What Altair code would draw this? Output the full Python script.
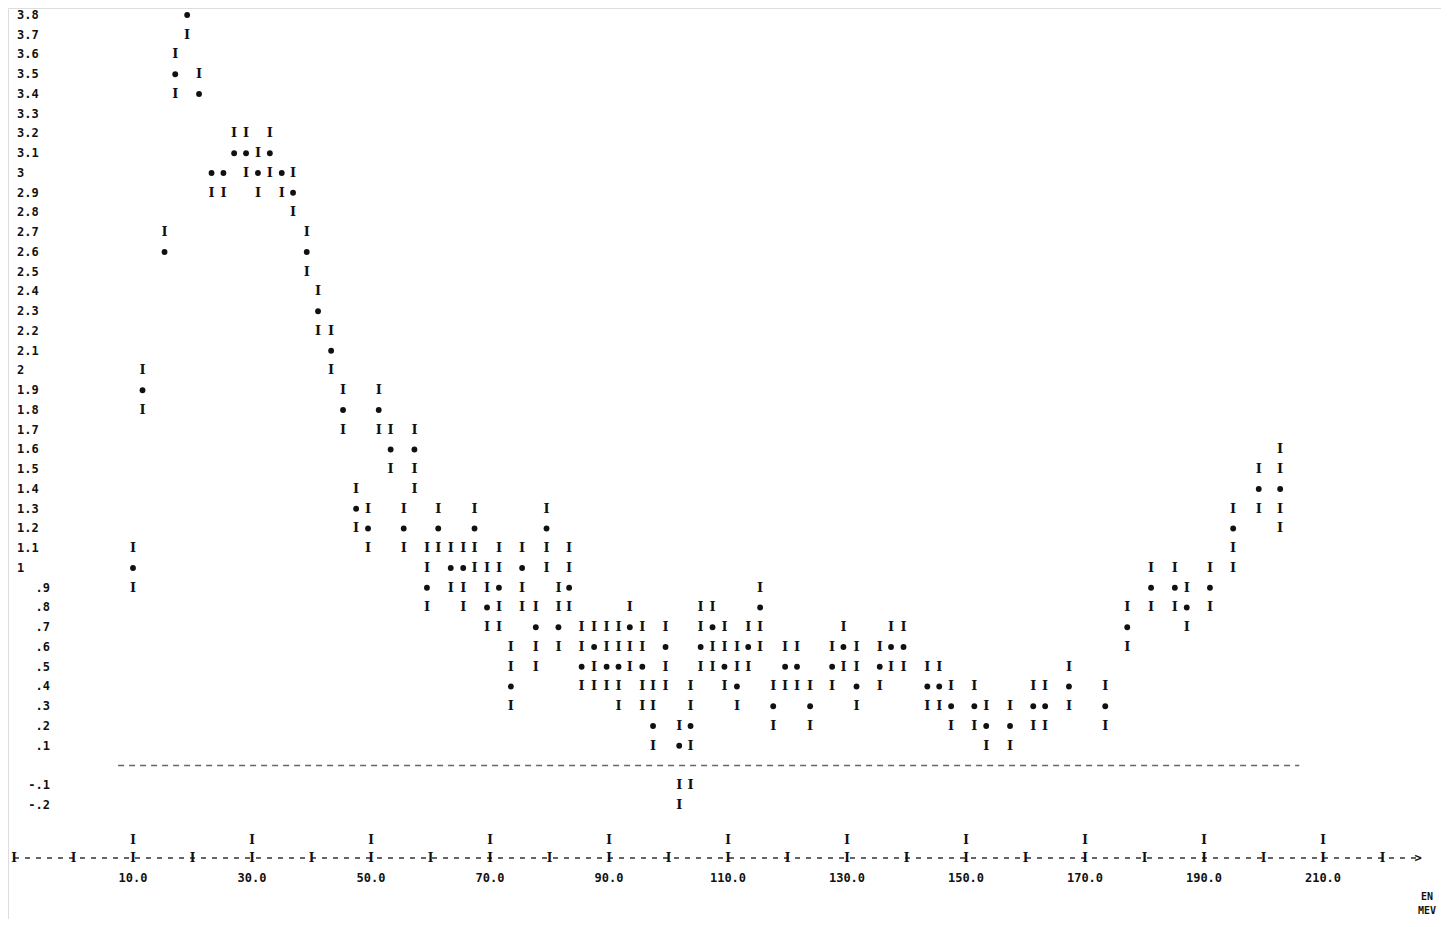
import altair as alt
import pandas as pd

# ---- data ----
energy = [10.0, 11.6, 15.3, 17.1, 19.1, 21.1, 23.2, 25.2, 27.0, 29.0,
          31.0, 33.0, 35.0, 36.9, 39.2, 41.1, 43.3, 45.3, 47.5, 49.5,
          51.3, 53.3, 55.5, 57.3, 59.4, 61.3, 63.4, 65.5, 67.4, 69.5,
          71.5, 73.5, 75.4, 77.7, 79.5, 81.5, 83.3, 85.4, 87.5, 89.6,
          91.6, 93.5, 95.6, 97.4, 99.5, 101.8, 103.7, 105.4, 107.4, 109.4,
          111.5, 113.4, 115.4, 117.6, 119.6, 121.6, 123.8, 127.5, 129.4, 131.6,
          135.5, 137.4, 139.5, 143.5, 145.5, 147.5, 151.4, 153.4, 157.4, 161.3,
          163.3, 167.3, 173.4, 177.1, 181.1, 185.1, 187.1, 191.0, 194.9, 199.2, 202.8]
value = [1.0, 1.9, 2.6, 3.5, 3.8, 3.4, 3.0, 3.0, 3.1, 3.1,
         3.0, 3.1, 3.0, 2.9, 2.6, 2.3, 2.1, 1.8, 1.3, 1.2,
         1.8, 1.6, 1.2, 1.6, 0.9, 1.2, 1.0, 1.0, 1.2, 0.8,
         0.9, 0.4, 1.0, 0.7, 1.2, 0.7, 0.9, 0.5, 0.6, 0.5,
         0.5, 0.7, 0.5, 0.2, 0.6, 0.1, 0.2, 0.6, 0.7, 0.5,
         0.4, 0.6, 0.8, 0.3, 0.5, 0.5, 0.3, 0.5, 0.6, 0.4,
         0.5, 0.6, 0.6, 0.4, 0.4, 0.3, 0.3, 0.2, 0.2, 0.3,
         0.3, 0.4, 0.3, 0.7, 0.9, 0.9, 0.8, 0.9, 1.2, 1.4, 1.4]
err_lo = [0.9, 1.8, 2.6, 3.4, 3.7, 3.4, 2.9, 2.9, 3.1, 3.0,
          2.9, 3.0, 2.9, 2.8, 2.5, 2.2, 2.0, 1.7, 1.2, 1.1,
          1.7, 1.5, 1.1, 1.4, 0.8, 1.1, 0.9, 0.8, 1.0, 0.7,
          0.7, 0.3, 0.8, 0.5, 1.0, 0.6, 0.8, 0.4, 0.4, 0.4,
          0.3, 0.5, 0.3, 0.1, 0.4, -0.2, -0.1, 0.5, 0.5, 0.4,
          0.3, 0.5, 0.6, 0.2, 0.4, 0.4, 0.2, 0.4, 0.5, 0.3,
          0.4, 0.5, 0.5, 0.3, 0.3, 0.2, 0.2, 0.1, 0.1, 0.2,
          0.2, 0.3, 0.2, 0.6, 0.8, 0.8, 0.7, 0.8, 1.0, 1.3, 1.2]
err_hi = [1.1, 2.0, 2.7, 3.6, 3.8, 3.5, 3.0, 3.0, 3.2, 3.2,
          3.1, 3.2, 3.0, 3.0, 2.7, 2.4, 2.2, 1.9, 1.4, 1.3,
          1.9, 1.7, 1.3, 1.7, 1.1, 1.3, 1.1, 1.1, 1.3, 1.0,
          1.1, 0.6, 1.1, 0.8, 1.3, 0.9, 1.1, 0.7, 0.7, 0.7,
          0.7, 0.8, 0.7, 0.4, 0.7, 0.2, 0.4, 0.8, 0.8, 0.7,
          0.6, 0.7, 0.9, 0.4, 0.6, 0.6, 0.4, 0.6, 0.7, 0.6,
          0.6, 0.7, 0.7, 0.5, 0.5, 0.4, 0.4, 0.3, 0.3, 0.4,
          0.4, 0.5, 0.4, 0.8, 1.0, 1.0, 0.9, 1.0, 1.3, 1.5, 1.6]

y_label_values = [3.8, 3.7, 3.6, 3.5, 3.4, 3.3, 3.2, 3.1, 3.0, 2.9, 2.8, 2.7, 2.6, 2.5,
                  2.4, 2.3, 2.2, 2.1, 2.0, 1.9, 1.8, 1.7, 1.6, 1.5, 1.4, 1.3, 1.2, 1.1,
                  1.0, 0.9, 0.8, 0.7, 0.6, 0.5, 0.4, 0.3, 0.2, 0.1, -0.1, -0.2]
y_label_text = ["3.8", "3.7", "3.6", "3.5", "3.4", "3.3", "3.2", "3.1", "3", "2.9", "2.8",
                "2.7", "2.6", "2.5", "2.4", "2.3", "2.2", "2.1", "2", "1.9", "1.8", "1.7",
                "1.6", "1.5", "1.4", "1.3", "1.2", "1.1", "1", ".9", ".8", ".7", ".6", ".5",
                ".4", ".3", ".2", ".1", "-.1", "-.2"]

x_major = [10, 30, 50, 70, 90, 110, 130, 150, 170, 190, 210]
x_major_text = ["10.0", "30.0", "50.0", "70.0", "90.0", "110.0", "130.0", "150.0",
                "170.0", "190.0", "210.0"]
x_minor = [-10, 0, 10, 20, 30, 40, 50, 60, 70, 80, 90, 100, 110, 120, 130, 140, 150,
           160, 170, 180, 190, 200, 210, 220]
axis_extent = [-10, 226]
zero_line_extent = [7.5, 206]
axis_title = ["EN", "MEV"]

# ---- tables ----
pts = pd.DataFrame({"E": energy, "v": value, "lo": err_lo, "hi": err_hi})

bars = []
for e, v, lo, hi in zip(energy, value, err_lo, err_hi):
    lo_t, hi_t, v_t = round(lo * 10), round(hi * 10), round(v * 10)
    for r in range(lo_t, hi_t + 1):
        if r != v_t and r != 0:
            bars.append({"E": e, "r": r / 10})
bars = pd.DataFrame(bars)

ylab = pd.DataFrame({"val": y_label_values, "txt": y_label_text})
ylab["lead"] = ylab["txt"].str[0].isin([".", "-"])
ylab_left = ylab[~ylab["lead"]]
ylab_right = ylab[ylab["lead"]]

major = pd.DataFrame({"E": x_major, "txt": x_major_text})
minor = pd.DataFrame({"E": x_minor})
axis_df = pd.DataFrame({"E": [axis_extent[0]], "E2": [axis_extent[1]]})
zero_df = pd.DataFrame({"E": [zero_line_extent[0]], "E2": [zero_line_extent[1]], "y": [0.0]})
arrow_df = pd.DataFrame({"E": [axis_extent[1]]})

W, H = 1433, 911
xs = alt.Scale(domain=[-11.008, 229.83], nice=False, zero=False)
ys = alt.Scale(domain=[-0.77722, 3.83544], nice=False, zero=False)

MONO = "DejaVu Sans Mono"
SERIF = "DejaVu Serif"
INK = "#111111"

bar_layer = alt.Chart(bars).mark_text(
    text="I", font=SERIF, fontWeight="bold", fontSize=13, baseline="middle", color=INK
).encode(x=alt.X("E:Q", scale=xs, axis=None), y=alt.Y("r:Q", scale=ys, axis=None))

pt_layer = alt.Chart(pts).mark_point(
    shape="circle", filled=True, size=34, color=INK, opacity=1
).encode(x=alt.X("E:Q", scale=xs, axis=None), y=alt.Y("v:Q", scale=ys, axis=None))

zero_layer = alt.Chart(zero_df).mark_rule(
    color="#666666", strokeWidth=1.3, strokeDash=[6, 5]
).encode(x=alt.X("E:Q", scale=xs, axis=None), x2="E2:Q",
         y=alt.Y("y:Q", scale=ys, axis=None))

ylab_l = alt.Chart(ylab_left).mark_text(
    font=MONO, fontWeight="bold", fontSize=12, align="left", baseline="middle", color=INK
).encode(x=alt.value(9), y=alt.Y("val:Q", scale=ys, axis=None), text="txt:N")

ylab_r = alt.Chart(ylab_right).mark_text(
    font=MONO, fontWeight="bold", fontSize=12, align="right", baseline="middle", color=INK
).encode(x=alt.value(42), y=alt.Y("val:Q", scale=ys, axis=None), text="txt:N")

axis_line = alt.Chart(axis_df).mark_rule(
    color="#333333", strokeWidth=1.3, strokeDash=[5, 6]
).encode(x=alt.X("E:Q", scale=xs, axis=None), x2="E2:Q", y=alt.value(850))

minor_ticks = alt.Chart(minor).mark_text(
    text="I", font=SERIF, fontWeight="bold", fontSize=12, baseline="middle", color=INK
).encode(x=alt.X("E:Q", scale=xs, axis=None), y=alt.value(850))

major_ticks = alt.Chart(major).mark_text(
    text="I", font=SERIF, fontWeight="bold", fontSize=12, baseline="middle", color=INK
).encode(x=alt.X("E:Q", scale=xs, axis=None), y=alt.value(832))

major_labels = alt.Chart(major).mark_text(
    font=MONO, fontWeight="bold", fontSize=12, baseline="middle", color=INK
).encode(x=alt.X("E:Q", scale=xs, axis=None), y=alt.value(870), text="txt:N")

arrow = alt.Chart(arrow_df).mark_text(
    text=">", font=MONO, fontWeight="bold", fontSize=12, baseline="middle", color=INK
).encode(x=alt.X("E:Q", scale=xs, axis=None), y=alt.value(850))

title_df = pd.DataFrame({"txt": axis_title, "row": [0, 1]})
title_layer = alt.Chart(title_df).mark_text(
    font=MONO, fontWeight="bold", fontSize=10, baseline="middle", align="center", color=INK
).encode(x=alt.value(1419),
         y=alt.Y("row:Q", scale=alt.Scale(domain=[0, 1], range=[889, 903]), axis=None),
         text="txt:N")

chart = alt.layer(
    zero_layer, bar_layer, pt_layer, ylab_l, ylab_r,
    axis_line, minor_ticks, major_ticks, major_labels, arrow, title_layer
).resolve_scale(y="independent").properties(
    width=W, height=H, autosize=alt.AutoSizeParams(type="none"), padding=0
).configure_view(stroke=None).configure(background="white")

chart.save("out.html", embed_options={"renderer": "svg", "actions": False})
